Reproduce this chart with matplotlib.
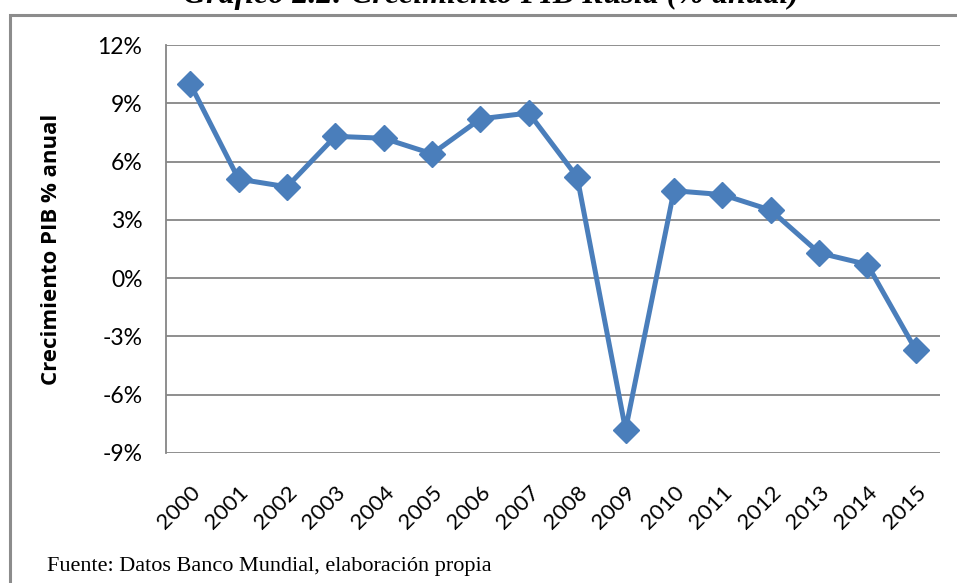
import matplotlib.pyplot as plt
from matplotlib.patches import Rectangle
from matplotlib.ticker import FuncFormatter

# Crecimiento PIB Rusia (% anual)
years = ['2000', '2001', '2002', '2003', '2004', '2005', '2006', '2007',
         '2008', '2009', '2010', '2011', '2012', '2013', '2014', '2015']
growth = [10.0, 5.1, 4.7, 7.3, 7.2, 6.4, 8.2, 8.5,
          5.2, -7.8, 4.5, 4.3, 3.5, 1.3, 0.7, -3.7]
yticks = [-9, -6, -3, 0, 3, 6, 9, 12]

fig = plt.figure(figsize=(9.57, 5.83), dpi=100)
ax = fig.add_axes([166 / 957, 1 - 453 / 583, (940 - 166) / 957, (453 - 45) / 583])

# outer frame of the chart object (runs off the right and bottom edge)
fig.patches.append(Rectangle((10 / 957, -0.05), 1.0, 1 - 15 / 583 + 0.05,
                             transform=fig.transFigure, fill=False,
                             edgecolor='#8c8c8c', linewidth=2.2))

x = list(range(len(years)))
ax.plot(x, growth, color='#4a7ebb', linewidth=3.6, marker='D', markersize=13,
        markerfacecolor='#4a7ebb', markeredgecolor='#4a7ebb', zorder=3)

ax.set_xlim(-0.5, len(years) - 0.5)
ax.set_ylim(-9, 12)
ax.set_yticks(yticks)
ax.yaxis.set_major_formatter(FuncFormatter(lambda v, p: f'{v:.0f}%'))
ax.grid(axis='y', color='#868686', linewidth=1.3)
ax.set_axisbelow(True)
for s in ['top', 'right', 'bottom']:
    ax.spines[s].set_visible(False)
ax.spines['left'].set_color('#868686')
ax.spines['left'].set_linewidth(1.3)

ax.set_xticks(x)
ax.set_xticklabels(years, rotation=45, ha='right', rotation_mode='anchor',
                   fontsize=16, family='Lato')
ax.tick_params(axis='x', length=0, pad=21)
ax.tick_params(axis='y', length=0, pad=17, labelsize=16.5)
for t in ax.get_yticklabels():
    t.set_family('Lato')

ax.set_ylabel('Crecimiento PIB % anual', fontsize=16, fontweight='bold',
              family='Open Sans')
ax.yaxis.set_label_coords(62 / 957, 1 - 249 / 583, transform=fig.transFigure)

# title sits partly above the top edge, as in the source image
fig.text(491 / 957, 1 - 3 / 583, 'Gráfico 2.2: Crecimiento PIB Rusia (% anual)',
         ha='center', va='baseline', fontsize=23, fontweight='bold',
         fontstyle='italic', family='Liberation Serif')
fig.text(47 / 957, 1 - 566 / 583, 'Fuente: Datos Banco Mundial, elaboración propia',
         ha='left', va='center', fontsize=16, family='Liberation Serif')

fig.savefig('out.png', dpi=100)
